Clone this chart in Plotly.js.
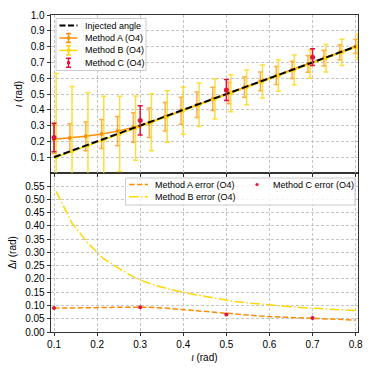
<!DOCTYPE html>
<html>
<head>
<meta charset="utf-8">
<script src="https://cdn.plot.ly/plotly-3.0.1.min.js"></script>
<style>html,body{margin:0;padding:0;background:#fff}</style>
</head>
<body>
<div id="chart" style="width:374px;height:374px"></div>
<script>
// injected inclination values (rad)
var iota = [0.1, 0.1368, 0.1737, 0.2105, 0.2474, 0.2842, 0.3211, 0.3579, 0.3947, 0.4316,
            0.4684, 0.5053, 0.5421, 0.5789, 0.6158, 0.6526, 0.6895, 0.7263, 0.7632, 0.8];
var injX = [0.1, 0.8];
var injY = [0.1, 0.8];

// Method A (O4)
var methodA    = [0.213, 0.221, 0.232, 0.247, 0.265, 0.288, 0.318, 0.356, 0.394, 0.432,
                  0.469, 0.506, 0.543, 0.580, 0.617, 0.653, 0.690, 0.727, 0.764, 0.801];
var methodAErr = [0.090, 0.090, 0.091, 0.092, 0.093, 0.093, 0.093, 0.090, 0.085, 0.080,
                  0.074, 0.068, 0.064, 0.060, 0.057, 0.055, 0.053, 0.050, 0.047, 0.045];

// Method B (O4)
var methodB    = [0.100, 0.137, 0.174, 0.211, 0.247, 0.284, 0.321, 0.358, 0.395, 0.432,
                  0.468, 0.505, 0.542, 0.579, 0.616, 0.653, 0.690, 0.726, 0.763, 0.800];
var methodBErr = [0.530, 0.410, 0.335, 0.275, 0.238, 0.203, 0.180, 0.163, 0.149, 0.138,
                  0.127, 0.117, 0.110, 0.104, 0.099, 0.094, 0.090, 0.087, 0.083, 0.080];
var shiftB = 0.005; // B drawn slightly to the right

// Method C (O4)
var iotaC      = [0.1, 0.3, 0.5, 0.7];
var methodC    = [0.225, 0.333, 0.525, 0.733];
var methodCErr = [0.090, 0.093, 0.066, 0.053];

var xB = iota.map(function (v) { return v + shiftB; });

var ORANGE = '#ff8c00', GOLD = '#ffd700', RED = '#dc143c';
var FONT = 'Liberation Sans, Arial, sans-serif';

var traces = [
  {x: iota, y: methodA, xaxis: 'x2', yaxis: 'y2', type: 'scatter', mode: 'lines+markers',
   line: {color: ORANGE, width: 1.5}, marker: {color: ORANGE, size: 4},
   error_y: {type: 'data', array: methodAErr, color: 'rgba(255,140,0,0.7)', thickness: 1.5, width: 2.5}},
  {x: xB, y: methodB, xaxis: 'x2', yaxis: 'y2', type: 'scatter', mode: 'lines+markers',
   line: {color: GOLD, width: 1.5}, marker: {color: GOLD, size: 4},
   error_y: {type: 'data', array: methodBErr, color: 'rgba(255,215,0,0.8)', thickness: 1.5, width: 2.5}},
  {x: injX, y: injY, xaxis: 'x2', yaxis: 'y2', type: 'scatter', mode: 'lines',
   line: {color: 'black', width: 2, dash: '7px,3px'}},
  {x: iotaC, y: methodC, xaxis: 'x2', yaxis: 'y2', type: 'scatter', mode: 'markers',
   marker: {color: RED, size: 5},
   error_y: {type: 'data', array: methodCErr, color: RED, thickness: 1.5, width: 2.5}},

  {x: iota, y: methodAErr, xaxis: 'x', yaxis: 'y', type: 'scatter', mode: 'lines',
   line: {color: ORANGE, width: 1.5, dash: '5.5px,2.4px'}},
  {x: xB, y: methodBErr, xaxis: 'x', yaxis: 'y', type: 'scatter', mode: 'lines',
   line: {color: GOLD, width: 1.5, dash: '9.6px,2.4px,1.5px,2.4px'}},
  {x: iotaC, y: methodCErr, xaxis: 'x', yaxis: 'y', type: 'scatter', mode: 'markers',
   marker: {color: RED, size: 4}}
];

// plot area in px: x 51..358, y 15..332
var L = 51, R = 358, T = 15, B = 332;
function px(x) { return (x - L) / (R - L); }
function py(y) { return (B - y) / (B - T); }

var shapes = [], annotations = [];
function pline(x0, y0, x1, y1, color, width, dash) {
  shapes.push({type: 'line', xref: 'paper', yref: 'paper', layer: 'above',
    x0: px(x0), y0: py(y0), x1: px(x1), y1: py(y1),
    line: {color: color, width: width, dash: dash || 'solid'}});
}
function pdot(x, y, r, color) {
  shapes.push({type: 'circle', xref: 'paper', yref: 'paper', layer: 'above',
    x0: px(x - r), x1: px(x + r), y0: py(y + r), y1: py(y - r),
    fillcolor: color, line: {width: 0}});
}
function pbox(x0, y0, x1, y1) {
  shapes.push({type: 'rect', xref: 'paper', yref: 'paper', layer: 'above',
    x0: px(x0), y0: py(y1), x1: px(x1), y1: py(y0),
    fillcolor: 'rgba(255,255,255,0.8)', line: {color: '#cccccc', width: 1}});
}
function ptext(x, y, s) {
  annotations.push({xref: 'paper', yref: 'paper', x: px(x), y: py(y), text: s,
    showarrow: false, xanchor: 'left', yanchor: 'middle', borderpad: 0,
    font: {family: FONT, size: 9, color: 'black'}});
}
function errGlyph(cx, cy, color, withLine) {
  if (withLine) pline(cx - 9, cy, cx + 9, cy, color, 1.5);
  pline(cx, cy - 4.5, cx, cy + 4.5, color, 1.5);
  pline(cx - 2.5, cy - 4.5, cx + 2.5, cy - 4.5, color, 1.5);
  pline(cx - 2.5, cy + 4.5, cx + 2.5, cy + 4.5, color, 1.5);
  pdot(cx, cy, 1.8, color);
}

// top legend
pbox(56, 18.5, 146, 70.5);
pline(59.5, 25.6, 77.5, 25.6, 'black', 2, '6px,2.5px');
ptext(83.5, 25.6, 'Injected angle');
errGlyph(68.5, 38.0, ORANGE, true);
ptext(83.5, 38.0, 'Method A (O4)');
errGlyph(68.5, 50.4, GOLD, true);
ptext(83.5, 50.4, 'Method B (O4)');
errGlyph(68.5, 62.8, RED, false);
ptext(83.5, 62.8, 'Method C (O4)');

// bottom legend
pbox(125.5, 178, 355, 205);
pline(129, 184.5, 148, 184.5, ORANGE, 1.5, '5.5px,2.4px');
ptext(153.5, 184.5, 'Method A error (O4)');
pline(129, 196.7, 148, 196.7, GOLD, 1.5, '9.6px,2.4px,1.5px,2.4px');
ptext(153.5, 196.7, 'Method B error (O4)');
pdot(257, 184.5, 1.6, RED);
ptext(272, 184.5, 'Method C error (O4)');

var axisBase = {
  showline: true, mirror: true, linecolor: 'black', linewidth: 0.8,
  ticks: 'outside', ticklen: 3.5, tickwidth: 0.8, tickcolor: 'black',
  showgrid: true, gridcolor: '#b8b8b8', gridwidth: 0.8, griddash: '3px,2px',
  zeroline: false, tickfont: {family: FONT, size: 10, color: 'black'}
};
function ax(extra) { return Object.assign({}, axisBase, extra); }

var xticks = [0.1, 0.2, 0.3, 0.4, 0.5, 0.6, 0.7, 0.8];
var layout = {
  width: 374, height: 374,
  margin: {l: L, r: 374 - R, t: T, b: 374 - B},
  paper_bgcolor: 'white', plot_bgcolor: 'white',
  showlegend: false,
  font: {family: FONT, size: 10, color: 'black'},
  xaxis: ax({anchor: 'y', domain: [0, 1], range: [0.093, 0.8055], tickvals: xticks, tickformat: '.1f',
    title: {text: '<i>ι</i> (rad)', font: {family: FONT, size: 10}, standoff: 4}}),
  xaxis2: ax({anchor: 'y2', matches: 'x', domain: [0, 1], range: [0.093, 0.8055], tickvals: xticks,
    showticklabels: false}),
  yaxis: ax({anchor: 'x', domain: [0, 0.5016], range: [0, 0.599], dtick: 0.05, tick0: 0, tickformat: '.2f',
    title: {text: 'Δ<i>ι</i> (rad)', font: {family: FONT, size: 10}, standoff: 6}}),
  yaxis2: ax({anchor: 'x2', domain: [0.5016, 1], range: [0, 1],
    tickvals: [0.1, 0.2, 0.3, 0.4, 0.5, 0.6, 0.7, 0.8, 0.9, 1.0], tickformat: '.1f',
    title: {text: '<i>ι</i> (rad)', font: {family: FONT, size: 10}, standoff: 6}}),
  shapes: shapes,
  annotations: annotations
};

Plotly.newPlot('chart', traces, layout, {staticPlot: true});
</script>
</body>
</html>
